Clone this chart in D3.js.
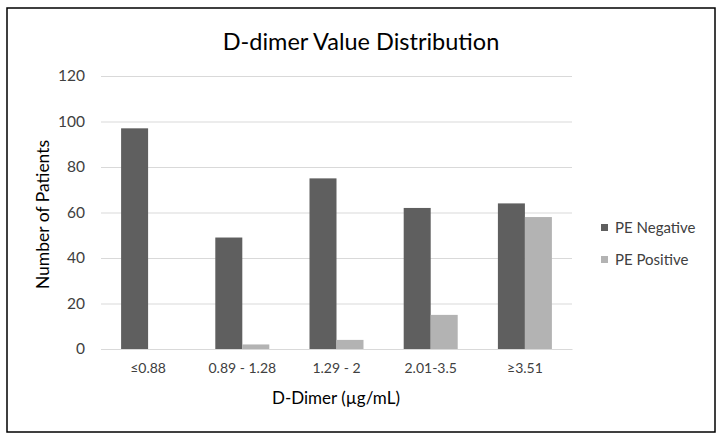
<!DOCTYPE html>
<html>
<head>
<meta charset="utf-8">
<script src="https://cdn.jsdelivr.net/npm/d3@7"></script>
<style>
  body { margin: 0; background: #fff; }
  text { font-family: Lato, "Open Sans", sans-serif; fill: #404040; }
</style>
</head>
<body>
<div class="chart"></div>
<script>
const categories = ["≤0.88", "0.89 - 1.28", "1.29 - 2", "2.01-3.5", "≥3.51"];
const seriesNames = ["PE Negative", "PE Positive"];
const peNegative = [97, 49, 75, 62, 64];
const pePositive = [0, 2, 4, 15, 58];
const yTicks = [0, 20, 40, 60, 80, 100, 120];
const colors = ["#5f5f5f", "#b3b3b3"];

const W = 724, H = 441;
const margin = { top: 76, right: 152, bottom: 92, left: 101 };
const width = W - margin.left - margin.right,
      height = H - margin.top - margin.bottom;

const root = d3.select(".chart").append("svg")
    .attr("width", W)
    .attr("height", H);

// outer frame
root.append("rect")
    .attr("x", 7).attr("y", 8)
    .attr("width", 708).attr("height", 424)
    .attr("fill", "none")
    .attr("stroke", "#000")
    .attr("stroke-width", 1.5);

// title
root.append("text")
    .attr("x", 361).attr("y", 50)
    .attr("text-anchor", "middle")
    .style("font-size", "23.5px")
    .style("fill", "#000")
    .text("D-dimer Value Distribution");

const svg = root.append("g")
    .attr("transform", "translate(" + margin.left + "," + margin.top + ")");

const scaleX = d3.scaleBand()
    .domain(categories)
    .range([0, width]);

const scaleSub = d3.scaleBand()
    .domain(seriesNames)
    .range([0, 54])
    .padding(0);

const scaleY = d3.scaleLinear()
    .domain([0, 120])
    .range([height, 0]);

// grid lines
svg.append("g")
    .attr("class", "grid")
    .call(d3.axisLeft(scaleY).tickValues(yTicks).tickSize(-width).tickFormat(""))
    .call(g => g.select(".domain").remove())
    .call(g => g.selectAll("line").attr("stroke", "#d9d9d9").attr("stroke-width", 1));

// y tick labels
svg.append("g")
    .call(d3.axisLeft(scaleY).tickValues(yTicks).tickSize(0).tickPadding(16))
    .call(g => g.select(".domain").remove())
    .call(g => g.selectAll("text").style("font-size", "15.5px").style("fill", "#404040"));

// bars
const data = categories.map((c, i) => ({ cat: c, values: [peNegative[i], pePositive[i]] }));

const groups = svg.selectAll(".group")
    .data(data)
    .enter().append("g")
    .attr("class", "group")
    .attr("transform", d => "translate(" + (scaleX(d.cat) + scaleX.bandwidth() / 2 - 27) + ",0)");

groups.selectAll("rect")
    .data(d => d.values.map((v, j) => ({ name: seriesNames[j], value: v, j: j })))
    .enter().append("rect")
    .attr("x", d => scaleSub(d.name))
    .attr("width", scaleSub.bandwidth())
    .attr("y", d => scaleY(d.value))
    .attr("height", d => height - scaleY(d.value))
    .attr("fill", d => colors[d.j]);

// x axis
svg.append("g")
    .attr("transform", "translate(0," + height + ")")
    .call(d3.axisBottom(scaleX).tickSize(0).tickPadding(14))
    .call(g => g.select(".domain").attr("stroke", "#d9d9d9"))
    .call(g => g.selectAll("text").style("font-size", "14px").style("fill", "#404040"));

// axis titles
root.append("text")
    .attr("transform", "translate(49," + (margin.top + height / 2 + 2) + ") rotate(-90)")
    .attr("text-anchor", "middle")
    .style("font-size", "17.5px")
    .style("fill", "#000")
    .text("Number of Patients");

root.append("text")
    .attr("x", 336)
    .attr("y", 404)
    .attr("text-anchor", "middle")
    .style("font-size", "17px")
    .style("fill", "#000")
    .text("D-Dimer (µg/mL)");

// legend
const legend = root.append("g")
    .selectAll("g")
    .data(seriesNames)
    .enter().append("g")
    .attr("transform", (d, i) => "translate(601," + (228 + i * 32) + ")");

legend.append("rect")
    .attr("x", 0).attr("y", -4)
    .attr("width", 7).attr("height", 7)
    .attr("fill", (d, i) => colors[i]);

legend.append("text")
    .attr("x", 14).attr("y", 0)
    .attr("dy", "0.35em")
    .style("font-size", "15px")
    .style("fill", "#404040")
    .text(d => d);
</script>
</body>
</html>
